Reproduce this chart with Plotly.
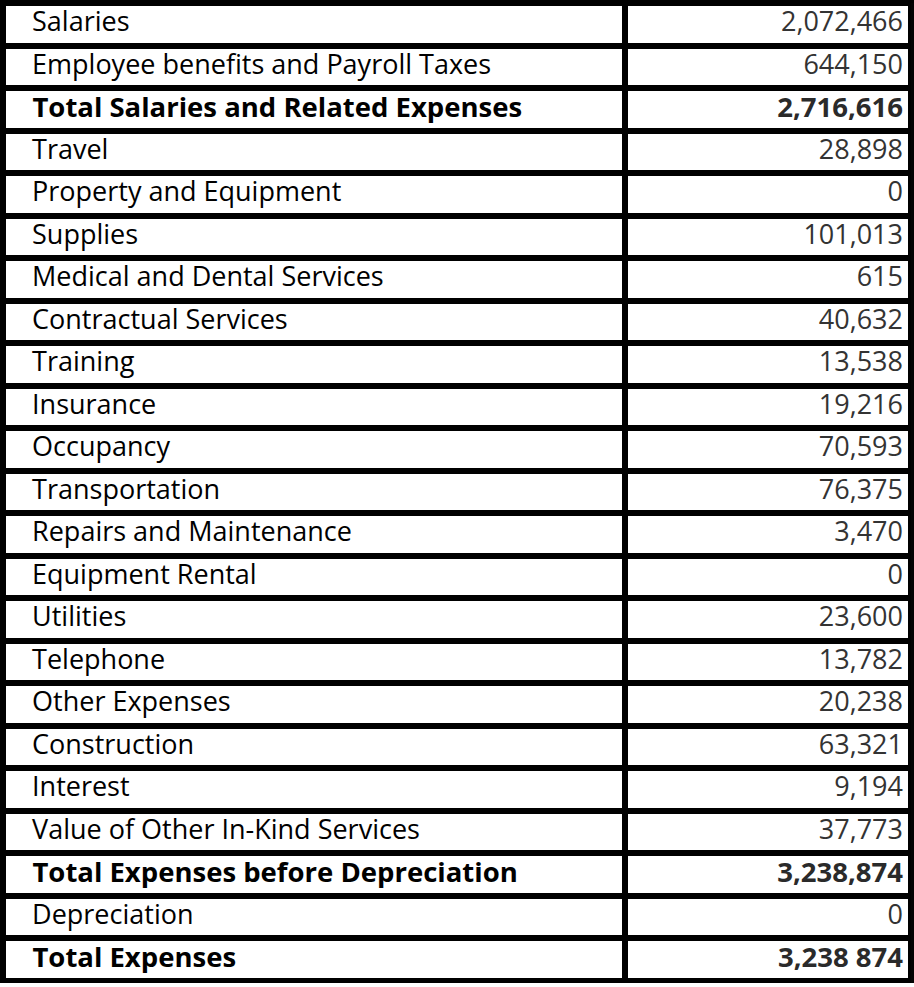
import plotly.graph_objects as go

# expense lines as shown in the statement
items = [
    "Salaries", "Employee benefits and Payroll Taxes", "Total Salaries and Related Expenses",
    "Travel", "Property and Equipment", "Supplies", "Medical and Dental Services",
    "Contractual Services", "Training", "Insurance", "Occupancy", "Transportation",
    "Repairs and Maintenance", "Equipment Rental", "Utilities", "Telephone",
    "Other Expenses", "Construction", "Interest", "Value of Other In-Kind Services",
    "Total Expenses before Depreciation", "Depreciation", "Total Expenses",
]
amounts = [
    "2,072,466", "644,150", "2,716,616", "28,898", "0", "101,013", "615", "40,632",
    "13,538", "19,216", "70,593", "76,375", "3,470", "0", "23,600", "13,782",
    "20,238", "63,321", "9,194", "37,773", "3,238,874", "0", "3,238 874",
]
total_rows = ["Total Salaries and Related Expenses", "Total Expenses before Depreciation", "Total Expenses"]

pad = "\u00a0" * 3
is_total = [s in total_rows for s in items]

# regular rows in one table, total rows in a transparent bold table on top
reg_labels = ["" if t else pad + s for s, t in zip(items, is_total)]
reg_amounts = ["" if t else a for a, t in zip(amounts, is_total)]
tot_labels = [pad + s if t else "" for s, t in zip(items, is_total)]
tot_amounts = [a if t else "" for a, t in zip(amounts, is_total)]

common = dict(
    columnwidth=[622, 286],
    header=dict(values=["", ""], height=0, line=dict(width=0, color="rgba(0,0,0,0)"),
                fill=dict(color="rgba(0,0,0,0)")),
)

fig = go.Figure()
fig.add_trace(go.Table(
    **common,
    cells=dict(
        values=[reg_labels, reg_amounts],
        align=["left", "right"],
        height=42.5,
        line=dict(color="black", width=6),
        fill=dict(color="white"),
        font=dict(family="Open Sans", size=27, color=["black", "#333333"]),
    ),
))
fig.add_trace(go.Table(
    **common,
    cells=dict(
        values=[tot_labels, tot_amounts],
        align=["left", "right"],
        height=42.5,
        line=dict(color="rgba(0,0,0,0)", width=0),
        fill=dict(color="rgba(0,0,0,0)"),
        font=dict(family="Open Sans", size=27.5, weight="bold",
                  color=["black", "#2a2a2a"]),
    ),
))

fig.update_layout(
    width=914, height=987,
    margin=dict(l=3, r=3, t=3, b=4),
    paper_bgcolor="white",
)

# drop the default page margin so the figure sits at the window corner
fig.write_html("out.html", config={"displayModeBar": False},
               post_script="document.body.style.margin='0';")
